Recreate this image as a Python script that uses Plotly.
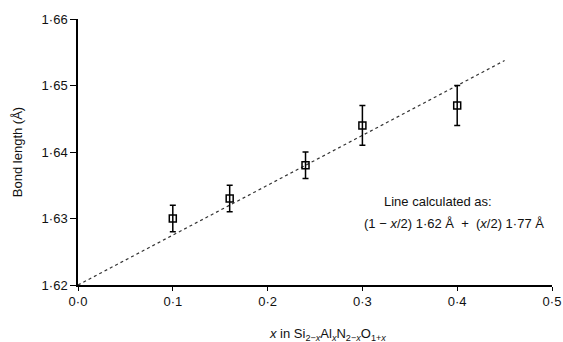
import plotly.graph_objects as go

x_vals = [0.10, 0.16, 0.24, 0.30, 0.40]
bond_len = [1.630, 1.633, 1.638, 1.644, 1.647]
err = [0.002, 0.002, 0.002, 0.003, 0.003]

line_x = [0.0, 0.45]
line_y = [1.62 + 0.075 * v for v in line_x]

x_ticks = [0.0, 0.1, 0.2, 0.3, 0.4, 0.5]
x_ticktext = ["0·0", "0·1", "0·2", "0·3", "0·4", "0·5"]
y_ticks = [1.62, 1.63, 1.64, 1.65, 1.66]
y_ticktext = ["1·62", "1·63", "1·64", "1·65", "1·66"]

font = "Liberation Sans, Arial, sans-serif"

fig = go.Figure()
fig.add_trace(go.Scatter(
    x=line_x, y=line_y, mode="lines",
    line=dict(color="#333", width=1.2, dash="dot"),
    showlegend=False, hoverinfo="skip"))
fig.add_trace(go.Scatter(
    x=x_vals, y=bond_len, mode="markers",
    marker=dict(symbol="square-open", size=7, color="black", line=dict(width=1.5)),
    error_y=dict(type="data", array=err, color="black", thickness=1.5, width=3),
    showlegend=False))

fig.add_annotation(x=0.321, y=1.6326, xref="x", yref="y", xanchor="left",
                   text="Line calculated as:", showarrow=False,
                   font=dict(size=13, color="#111", family=font))
fig.add_annotation(x=0.300, y=1.6292, xref="x", yref="y", xanchor="left",
                   text="(1 − <i>x</i>/2) 1·62 Å  +  (<i>x</i>/2) 1·77 Å", showarrow=False,
                   font=dict(size=13, color="#111", family=font))
fig.add_annotation(x=0.5, y=-0.185, xref="paper", yref="paper", xanchor="center", yanchor="middle",
                   xshift=12,
                   text="<i>x</i> in Si<sub>2−<i>x</i></sub>Al<sub><i>x</i></sub>N<sub>2−<i>x</i></sub>O<sub>1+<i>x</i></sub>",
                   showarrow=False, font=dict(size=13, color="#111", family=font))

fig.update_layout(
    width=563, height=342,
    margin=dict(l=78, r=11, t=19, b=57),
    plot_bgcolor="white", paper_bgcolor="white",
    font=dict(family=font, size=13, color="#111"),
    xaxis=dict(range=[0, 0.5], tickvals=x_ticks, ticktext=x_ticktext, automargin=False,
               showgrid=False, zeroline=False, showline=True, linecolor="black",
               linewidth=1.5, ticks="outside", ticklen=4, tickcolor="black"),
    yaxis=dict(range=[1.62, 1.66], tickvals=y_ticks, ticktext=y_ticktext, automargin=False,
               showgrid=False, zeroline=False, showline=True, linecolor="black",
               linewidth=1.5, ticks="outside", ticklen=6, tickcolor="black",
               title=dict(text="Bond length (Å)", standoff=16, font=dict(size=13))),
)

fig.write_html("out.html")
